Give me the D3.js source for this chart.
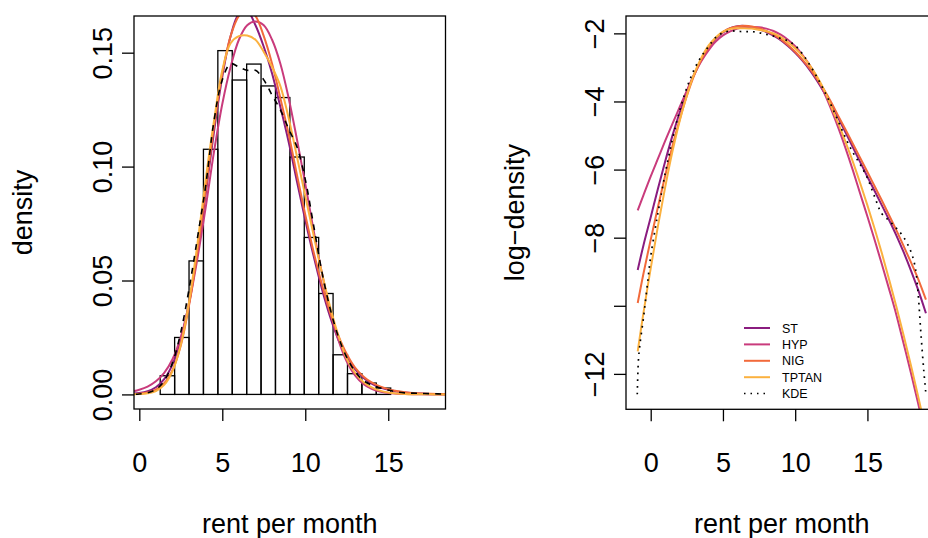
<!DOCTYPE html>
<html>
<head>
<meta charset="utf-8">
<script src="https://cdn.jsdelivr.net/npm/d3@7"></script>
<style>
  body { margin: 0; background: #fff; }
  text { font-family: "Liberation Sans", Arial, Helvetica, sans-serif; fill: #000; }
</style>
</head>
<body>
<svg id="chart" width="928" height="538"></svg>
<script>
// Histogram of rent per month: bin breaks and densities
const histBreaks = [1.260, 2.128, 2.996, 3.864, 4.732, 5.600, 6.468, 7.336, 8.204,
                    9.072, 9.940, 10.808, 11.676, 12.544, 13.412, 14.280, 15.148];
const histDensity = [0.0082, 0.0250, 0.0586, 0.1076, 0.1509, 0.1380, 0.1450, 0.1354,
                     0.1303, 0.1042, 0.0689, 0.0443, 0.0174, 0.0091, 0.0050, 0.0028];

// Fitted log-densities evaluated on a common rent grid
const rentGrid = [-0.9, -0.5, 0, 0.5, 1, 1.5, 2, 2.5, 3, 3.5, 4, 4.5, 5, 5.5, 6, 6.5, 7, 7.5,
                  8, 8.5, 9, 9.5, 10, 10.5, 11, 11.5, 12, 12.5, 13, 13.5, 14, 14.5, 15, 15.5,
                  16, 16.5, 17, 17.5, 18, 18.5, 19.05];
const logST = [-8.95, -8.22, -7.40, -6.56, -5.76, -5.01, -4.33, -3.73, -3.21, -2.78, -2.43,
               -2.16, -1.97, -1.85, -1.79, -1.782, -1.82, -1.88, -1.96, -2.07, -2.20, -2.37,
               -2.57, -2.80, -3.07, -3.38, -3.73, -4.10, -4.50, -4.92, -5.35, -5.78, -6.21,
               -6.63, -7.05, -7.48, -7.93, -8.42, -8.95, -9.52, -10.22];
const logHYP = [-7.20, -6.75, -6.20, -5.68, -5.16, -4.66, -4.17, -3.68, -3.22, -2.82, -2.50,
                -2.24, -2.06, -1.94, -1.86, -1.82, -1.81, -1.82, -1.86, -1.93, -2.04, -2.19,
                -2.38, -2.63, -2.93, -3.30, -3.74, -4.24, -4.79, -5.39, -6.03, -6.71, -7.38,
                -8.07, -8.78, -9.51, -10.26, -11.10, -11.95, -12.85, -13.85];
const logNIG = [-9.92, -9.05, -8.06, -7.10, -6.18, -5.32, -4.54, -3.84, -3.24, -2.77, -2.41,
                -2.14, -1.96, -1.85, -1.795, -1.777, -1.795, -1.85, -1.93, -2.04, -2.17, -2.34,
                -2.54, -2.77, -3.03, -3.33, -3.66, -4.03, -4.44, -4.84, -5.25, -5.66, -6.07,
                -6.49, -6.91, -7.34, -7.78, -8.24, -8.71, -9.20, -9.82];
const logTPTAN = [-11.34, -10.20, -8.90, -7.66, -6.52, -5.48, -4.58, -3.82, -3.20, -2.72, -2.36,
                  -2.12, -1.95, -1.87, -1.85, -1.848, -1.86, -1.895, -1.94, -2.00, -2.11, -2.26,
                  -2.44, -2.66, -2.93, -3.26, -3.66, -4.16, -4.66, -5.21, -5.78, -6.40, -7.05,
                  -7.74, -8.46, -9.23, -10.02, -10.86, -11.73, -12.64, -13.69];

// Kernel density estimate (log scale) on its own grid
const kdeX = [-0.93, -0.85, -0.75, -0.5, -0.25, 0, 0.5, 1, 1.5, 2, 2.5, 3, 3.5, 4, 4.5, 5, 5.5,
              6, 6.5, 7, 7.5, 8, 8.5, 9, 9.5, 10, 10.5, 11, 11.5, 12, 12.5, 13, 13.5, 14, 14.5,
              15, 15.5, 16, 16.5, 17, 17.5, 18, 18.3, 18.5, 18.7, 18.9, 19.05];
const kdeLog = [-12.6, -11.6, -11.15, -10.35, -9.45, -8.55, -7.28, -6.12, -5.12, -4.28, -3.60,
                -3.07, -2.68, -2.39, -2.12, -1.98, -1.93, -1.94, -1.95, -1.95, -1.98, -2.03,
                -2.08, -2.15, -2.22, -2.36, -2.60, -2.92, -3.28, -3.68, -4.12, -4.60, -5.08,
                -5.50, -5.85, -6.25, -6.80, -7.30, -7.50, -7.72, -7.98, -8.40, -8.85, -9.6,
                -10.8, -11.9, -12.6];

const seriesNames = ["ST", "HYP", "NIG", "TPTAN", "KDE"];
const xTicks = [0, 5, 10, 15];
const densityTicks = [0, 0.05, 0.10, 0.15];
const logTicks = [-2, -4, -6, -8, -10, -12];

// ---- styling ----
const colors = { ST: "#8a1c7f", HYP: "#c93b7c", NIG: "#f26a3b", TPTAN: "#fbb13f", KDE: "#000" };
const fitted = [
  { name: "ST", vals: logST },
  { name: "HYP", vals: logHYP },
  { name: "NIG", vals: logNIG },
  { name: "TPTAN", vals: logTPTAN }
];
const kde = kdeX.map((x, i) => [x, kdeLog[i]]);

const svg = d3.select("#chart");
svg.append("rect").attr("width", 928).attr("height", 538).attr("fill", "#fff");

const FS = 27;      // main text size
const TICK = 12;    // tick length

function panel(opt) {
  const g = svg.append("g");
  const { x, y } = opt;
  const [x0, x1] = x.range();
  const [y0, y1] = y.range();
  const clipId = "clip-" + opt.id;
  svg.append("clipPath").attr("id", clipId)
    .append("rect").attr("x", x0).attr("y", y1).attr("width", x1 - x0).attr("height", y0 - y1);
  const plot = g.append("g").attr("clip-path", `url(#${clipId})`);

  // x axis
  const ax = g.append("g").attr("transform", `translate(0,${y0})`)
    .call(d3.axisBottom(x).tickValues(xTicks).tickSize(TICK).tickFormat(d3.format("d")));
  ax.select(".domain").remove();
  ax.selectAll("line").attr("stroke", "#000").attr("stroke-width", 1.3);
  ax.selectAll("text").attr("font-size", FS).attr("dy", null).attr("y", 63);

  // y axis, labels parallel to the axis
  const ay = g.append("g").attr("transform", `translate(${x0},0)`)
    .call(d3.axisLeft(y).tickValues(opt.yTicks).tickSize(TICK).tickFormat(opt.yFormat));
  ay.select(".domain").remove();
  ay.selectAll("line").attr("stroke", "#000").attr("stroke-width", 1.3);
  ay.selectAll("text").attr("font-size", FS).attr("text-anchor", "middle")
    .attr("transform", "rotate(-90)").attr("x", 0).attr("dy", null).attr("y", -22);

  // axis titles
  g.append("text").attr("x", (x0 + x1) / 2).attr("y", 533).attr("text-anchor", "middle")
    .attr("font-size", FS).text(opt.xTitle);
  g.append("text").attr("transform", `translate(${x0 - 102},${(y0 + y1) / 2}) rotate(-90)`)
    .attr("text-anchor", "middle").attr("font-size", FS).text(opt.yTitle);

  // frame
  g.append("rect").attr("x", x0).attr("y", y1).attr("width", x1 - x0).attr("height", y0 - y1)
    .attr("fill", "none").attr("stroke", "#000").attr("stroke-width", 1.3);
  return plot;
}

// ---------- left panel: histogram with fitted densities ----------
const xL = d3.scaleLinear().domain([-0.32, 18.45]).range([134, 445.5]);
const yL = d3.scaleLinear().domain([-0.0064, 0.1661]).range([409, 16]);
const plotL = panel({ id: "l", x: xL, y: yL, yTicks: densityTicks, yFormat: d3.format(".2f"),
                      xTitle: "rent per month", yTitle: "density" });

plotL.selectAll("rect.bar").data(histDensity).join("rect").attr("class", "bar")
  .attr("x", (d, i) => xL(histBreaks[i]))
  .attr("width", (d, i) => xL(histBreaks[i + 1]) - xL(histBreaks[i]))
  .attr("y", d => yL(d)).attr("height", d => yL(0) - yL(d))
  .attr("fill", "none").attr("stroke", "#000").attr("stroke-width", 1.3);

const lineL = d3.line().x(d => xL(d[0])).y(d => yL(Math.exp(d[1]))).curve(d3.curveCatmullRom.alpha(0.5));
fitted.forEach(s => {
  plotL.append("path").datum(rentGrid.map((x, i) => [x, s.vals[i]]))
    .attr("d", lineL).attr("fill", "none").attr("stroke", colors[s.name]).attr("stroke-width", 2);
});
plotL.append("path").datum(kde).attr("d", lineL).attr("fill", "none")
  .attr("stroke", "#000").attr("stroke-width", 1.6).attr("stroke-dasharray", "6,6");

// ---------- right panel: log-densities ----------
const xR = d3.scaleLinear().domain([-1.71, 19.85]).range([626, 937.5]);
const yR = d3.scaleLinear().domain([-13.04, -1.49]).range([409.3, 16]);
const plotR = panel({ id: "r", x: xR, y: yR, yTicks: logTicks,
                      yFormat: d => (d === -10 ? "" : d3.format("d")(d)),
                      xTitle: "rent per month", yTitle: "log\u2212density" });

const lineR = d3.line().x(d => xR(d[0])).y(d => yR(d[1])).curve(d3.curveCatmullRom.alpha(0.5));
fitted.forEach(s => {
  plotR.append("path").datum(rentGrid.map((x, i) => [x, s.vals[i]]))
    .attr("d", lineR).attr("fill", "none").attr("stroke", colors[s.name]).attr("stroke-width", 2);
});
plotR.append("path").datum(kde).attr("d", lineR).attr("fill", "none")
  .attr("stroke", "#000").attr("stroke-width", 1.7).attr("stroke-dasharray", "1.7,5");

// legend
const leg = svg.append("g").attr("transform", "translate(744,328)");
seriesNames.forEach((name, i) => {
  const row = leg.append("g").attr("transform", `translate(0,${i * 16.4})`);
  row.append("line").attr("x1", 0).attr("x2", 26).attr("y1", 0).attr("y2", 0)
    .attr("stroke", colors[name]).attr("stroke-width", name === "KDE" ? 1.5 : 2)
    .attr("stroke-dasharray", name === "KDE" ? "1.5,5" : null);
  row.append("text").attr("x", 38).attr("y", 0).attr("dy", "0.36em")
    .attr("font-size", 12.5).text(name);
});
</script>
</body>
</html>
